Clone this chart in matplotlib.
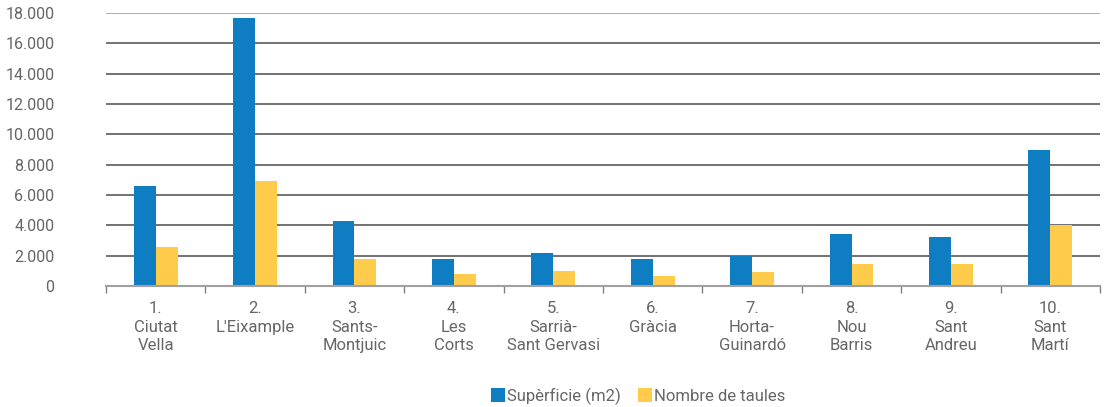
import matplotlib.pyplot as plt
import numpy as np
from matplotlib.ticker import FuncFormatter

plt.rcParams['font.family'] = ['Roboto', 'DejaVu Sans']

districtes = ['1.\nCiutat\nVella', '2.\nL\'Eixample', '3.\nSants-\nMontjuic', '4.\nLes\nCorts',
              '5.\nSarrià-\nSant Gervasi', '6.\nGràcia', '7.\nHorta-\nGuinardó', '8.\nNou\nBarris',
              '9.\nSant\nAndreu', '10.\nSant\nMartí']
superficie = [6600, 17650, 4300, 1800, 2150, 1800, 2000, 3400, 3200, 9000]
taules = [2600, 6900, 1800, 800, 1000, 650, 900, 1450, 1450, 4000]

blau = '#0f7dc2'
groc = '#ffcb4a'
gris = '#666666'

fig = plt.figure(figsize=(11.06, 4.07), dpi=100)
ax = fig.add_axes([0.0958, 0.2973, 0.8988, 0.6707])

x = np.arange(len(districtes))
w = 0.22
ax.bar(x - w / 2, superficie, w, color=blau, label='Supèrficie (m2)', zorder=3)
ax.bar(x + w / 2, taules, w, color=groc, label='Nombre de taules', zorder=3)

ax.set_xlim(-0.5, len(districtes) - 0.5)
ax.set_ylim(0, 18000)
ax.set_yticks(np.arange(0, 18001, 2000))
ax.yaxis.set_major_formatter(FuncFormatter(lambda v, p: f'{int(v):,}'.replace(',', '.')))
ax.tick_params(axis='y', length=0, pad=37, labelsize=11.5, labelcolor=gris)
ax.grid(axis='y', color='#5a5a5a', lw=1.2, zorder=0)
ax.get_ygridlines()[-1].set_color('#a0a0a0')

# tick marks on the category boundaries, labels in the middle
ax.set_xticks(np.arange(-0.5, len(districtes), 1))
ax.set_xticklabels([])
ax.tick_params(axis='x', which='major', length=5, width=1, color='#808080')
ax.set_xticks(x, minor=True)
ax.set_xticklabels(districtes, minor=True, fontsize=12, color=gris, linespacing=1.3)
ax.tick_params(axis='x', which='minor', length=0, pad=11)

for s in ['left', 'right', 'top']:
    ax.spines[s].set_visible(False)
ax.spines['bottom'].set_color('#a0a0a0')
ax.spines['bottom'].set_linewidth(1.5)
ax.spines['bottom'].set_zorder(4)

fig.legend(loc='center', bbox_to_anchor=(0.577, 0.027), ncol=2, frameon=False,
           fontsize=12, labelcolor=gris, handlelength=0.85, handleheight=0.85,
           handletextpad=0.15, columnspacing=1.0, borderaxespad=0)

fig.savefig('out.png', dpi=100)
